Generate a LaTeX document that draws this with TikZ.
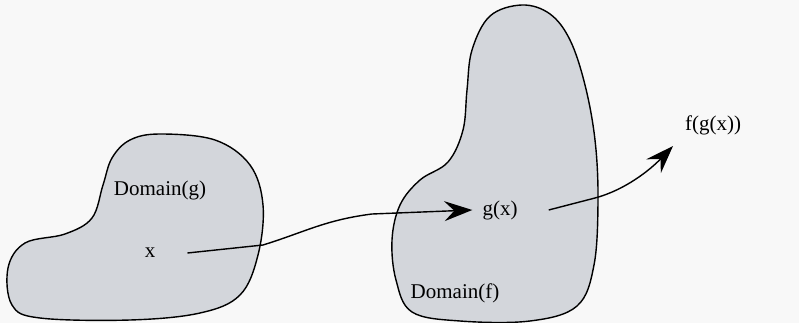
\documentclass[tikz,border=0pt]{standalone}
\usepackage{fontspec}
\setmainfont{Liberation Serif}
\usetikzlibrary{arrows.meta}
\definecolor{bgc}{RGB}{248,248,248}
\definecolor{blobc}{RGB}{211,214,219}
\begin{document}
\begin{tikzpicture}[x=1pt,y=-1pt,
  blob/.style={draw=black,line width=1.4pt,fill=blobc},
  lbl/.style={font=\fontsize{21}{25}\selectfont,inner sep=0pt},
  arr/.style={draw=black,line width=1.4pt,-{Stealth[length=28pt,width=20pt,inset=10pt]}}]
\fill[bgc] (0,0) rectangle (799,323);
\useasboundingbox (0,0) rectangle (799,323);
% Domain(g)
\draw[blob] plot[smooth cycle,tension=0.6] coordinates {
 (160,134) (215,140) (250,165) (263,205) (258,255) (240,295) (200,313)
 (130,320) (40,318) (12,305) (8,268) (25,243) (65,234) (92,218)
 (103,185) (112,158) (130,140)};
% Domain(f)
\draw[blob] plot[smooth cycle,tension=0.6] coordinates {
 (522,5) (550,14) (570,40) (585,85) (595,140) (598,200) (594,265)
 (577,306) (530,321) (460,321) (412,312) (396,280) (392,240) (400,205)
 (420,180) (448,162) (463,130) (467,90) (472,50) (490,16)};
\node[lbl] (dg) at (160,190) {Domain(g)};
\node[lbl] (df) at (455,293) {Domain(f)};
\node[lbl] (x) at (150,253) {x};
\node[lbl] (gx) at (500,210) {g(x)};
\node[lbl] (fgx) at (713,125) {f(g(x))};
\coordinate (c1) at (263,245);
\coordinate (c2) at (372,214);
\coordinate (c3) at (595,198);
\coordinate (tip) at (673,146);
\draw[arr] ([xshift=32pt]x.east) -- (c1) .. controls (305,232) and (325,220) .. (c2) -- ([xshift=-10pt]gx.west);
\draw[arr] ([xshift=31pt]gx.east) -- (c3) .. controls (625,190) and (650,170) .. (tip);
\end{tikzpicture}
\end{document}
